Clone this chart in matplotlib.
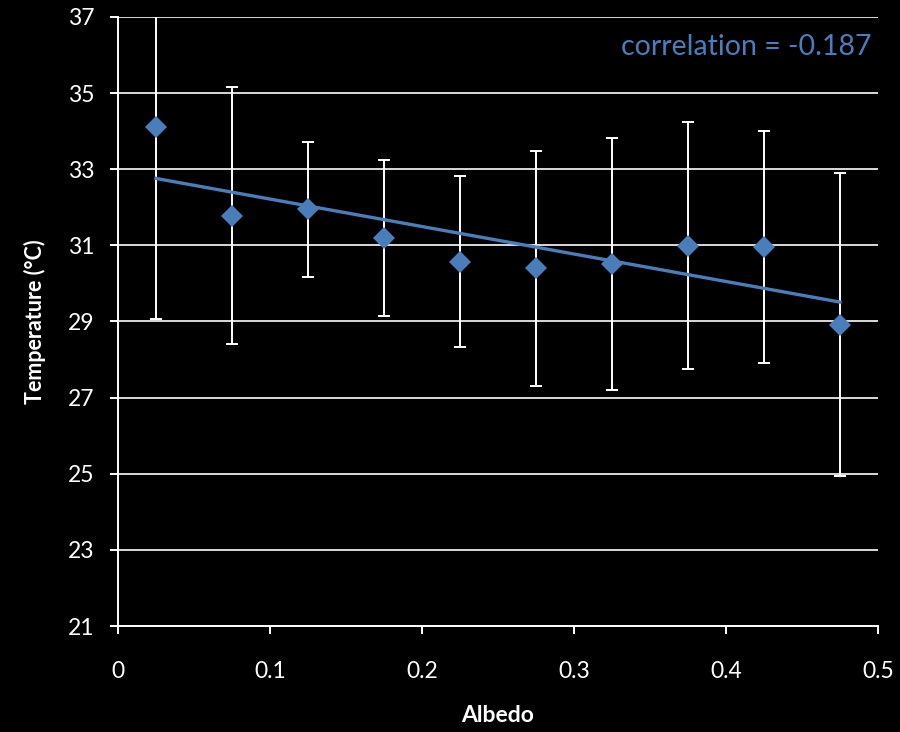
import numpy as np
import matplotlib
matplotlib.use("Agg")
import matplotlib.pyplot as plt

# binned albedo vs temperature
albedo = [0.025, 0.075, 0.125, 0.175, 0.225, 0.275, 0.325, 0.375, 0.425, 0.475]
temp = [34.10, 31.78, 31.95, 31.19, 30.57, 30.40, 30.50, 30.99, 30.95, 28.91]
temp_err = [5.04, 3.38, 1.77, 2.05, 2.24, 3.09, 3.31, 3.24, 3.05, 3.98]
corr_label = "correlation = -0.187"

blue = "#4A7EBB"
plt.rcParams["font.family"] = ["Lato", "DejaVu Sans"]

fig = plt.figure(figsize=(9, 7.32), dpi=100, facecolor="black")
ax = fig.add_axes([0.1311, 0.1448, 0.8445, 0.832], facecolor="black")

# error bars
ax.errorbar(albedo, temp, yerr=temp_err, fmt="none", ecolor="white",
            elinewidth=1.4, capsize=4.5, capthick=1.4, zorder=3)

# linear trendline
slope, icept = np.polyfit(albedo, temp, 1)
xs = np.array([albedo[0], albedo[-1]])
ax.plot(xs, slope * xs + icept, color=blue, lw=2.4, zorder=4)

# data points
ax.plot(albedo, temp, "D", color=blue, markersize=11, markeredgewidth=0, zorder=5)

ax.text(0.992, 0.951, corr_label, transform=ax.transAxes, ha="right", va="center",
        color=blue, fontsize=20.5)

ax.set_xlim(0, 0.5)
ax.set_ylim(21, 37)
ax.set_xticks(np.arange(0, 0.51, 0.1))
ax.set_xticklabels(["0", "0.1", "0.2", "0.3", "0.4", "0.5"])
ax.set_yticks(np.arange(21, 38, 2))

ax.grid(axis="y", color="#D9D9D9", lw=1.4)
ax.set_axisbelow(True)
for s in ["top", "right"]:
    ax.spines[s].set_visible(False)
for s in ["left", "bottom"]:
    ax.spines[s].set_color("white")
    ax.spines[s].set_linewidth(1.4)

ax.tick_params(axis="both", colors="white", labelsize=16.5, length=6, width=1.4)
ax.tick_params(axis="x", pad=19)
ax.tick_params(axis="y", pad=11)

ax.set_xlabel("Albedo", color="white", fontsize=16.5, fontweight="bold", labelpad=17)
ax.set_ylabel("Temperature (°C)", color="white", fontsize=15.5, fontweight="bold", labelpad=16)

fig.savefig("out.png", dpi=100, facecolor="black")
